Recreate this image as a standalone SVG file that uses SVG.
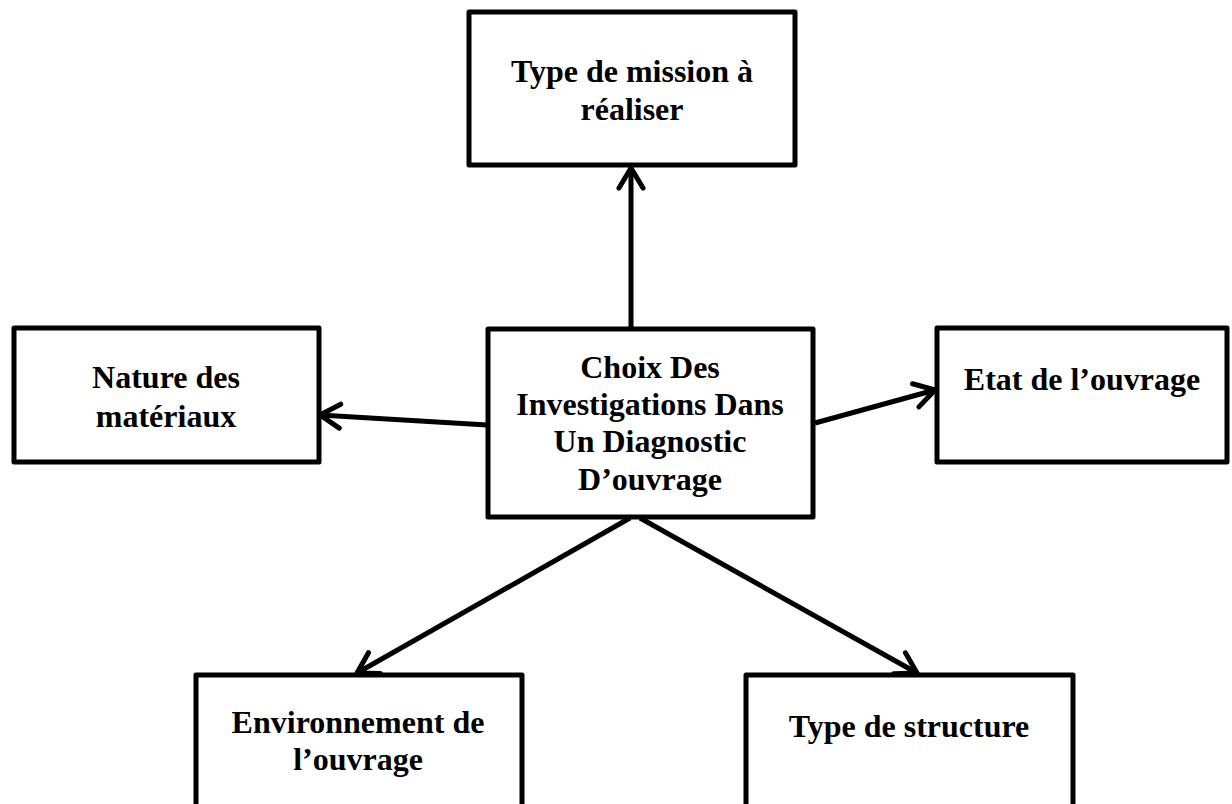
<svg xmlns="http://www.w3.org/2000/svg" width="1232" height="804" viewBox="0 0 1232 804">
<style>
.box{fill:#fff;stroke:#000;stroke-width:5;stroke-linejoin:round}
.t{font-family:"Liberation Serif","Times New Roman",serif;font-weight:bold;font-size:32px;text-anchor:middle;fill:#000}
.c{stroke:#000;stroke-width:5;fill:none;marker-end:url(#ah)}
</style>
<defs>
<marker id="ah" markerUnits="userSpaceOnUse" markerWidth="34" markerHeight="34" viewBox="0 0 34 34" refX="25" refY="17" orient="auto">
<path d="M5,5 L25,17 L5,29" fill="none" stroke="#000" stroke-width="5" stroke-linecap="round" stroke-linejoin="round"/>
</marker>
</defs>
<rect width="1232" height="804" fill="#fff"/>
<g id="connectors">
<line class="c" x1="631" y1="328" x2="631" y2="168"/>
<line class="c" x1="487" y1="425" x2="320" y2="415"/>
<line class="c" x1="815" y1="423" x2="935" y2="390"/>
<line class="c" x1="630" y1="518" x2="357" y2="673"/>
<line class="c" x1="640" y1="518" x2="917" y2="673"/>
</g>
<g id="node-center">
<rect class="box" x="488" y="329" width="325" height="188"/>
<text class="t" x="650" y="378">Choix Des</text>
<text class="t" x="650" y="415">Investigations Dans</text>
<text class="t" x="650" y="452">Un Diagnostic</text>
<text class="t" x="650" y="490">D’ouvrage</text>
</g>
<g id="node-mission">
<rect class="box" x="469" y="12" width="326" height="153"/>
<text class="t" x="632" y="82">Type de mission à</text>
<text class="t" x="632" y="120">réaliser</text>
</g>
<g id="node-materiaux">
<rect class="box" x="14" y="328" width="305" height="134"/>
<text class="t" x="166" y="388">Nature des</text>
<text class="t" x="166" y="427">matériaux</text>
</g>
<g id="node-etat">
<rect class="box" x="937" y="328" width="290" height="134"/>
<text class="t" x="1082" y="390">Etat de l’ouvrage</text>
</g>
<g id="node-environnement">
<rect class="box" x="196" y="675" width="326" height="160"/>
<text class="t" x="358" y="733">Environnement de</text>
<text class="t" x="358" y="770">l’ouvrage</text>
</g>
<g id="node-structure">
<rect class="box" x="746" y="675" width="327" height="160"/>
<text class="t" x="909" y="737">Type de structure</text>
</g>
</svg>
